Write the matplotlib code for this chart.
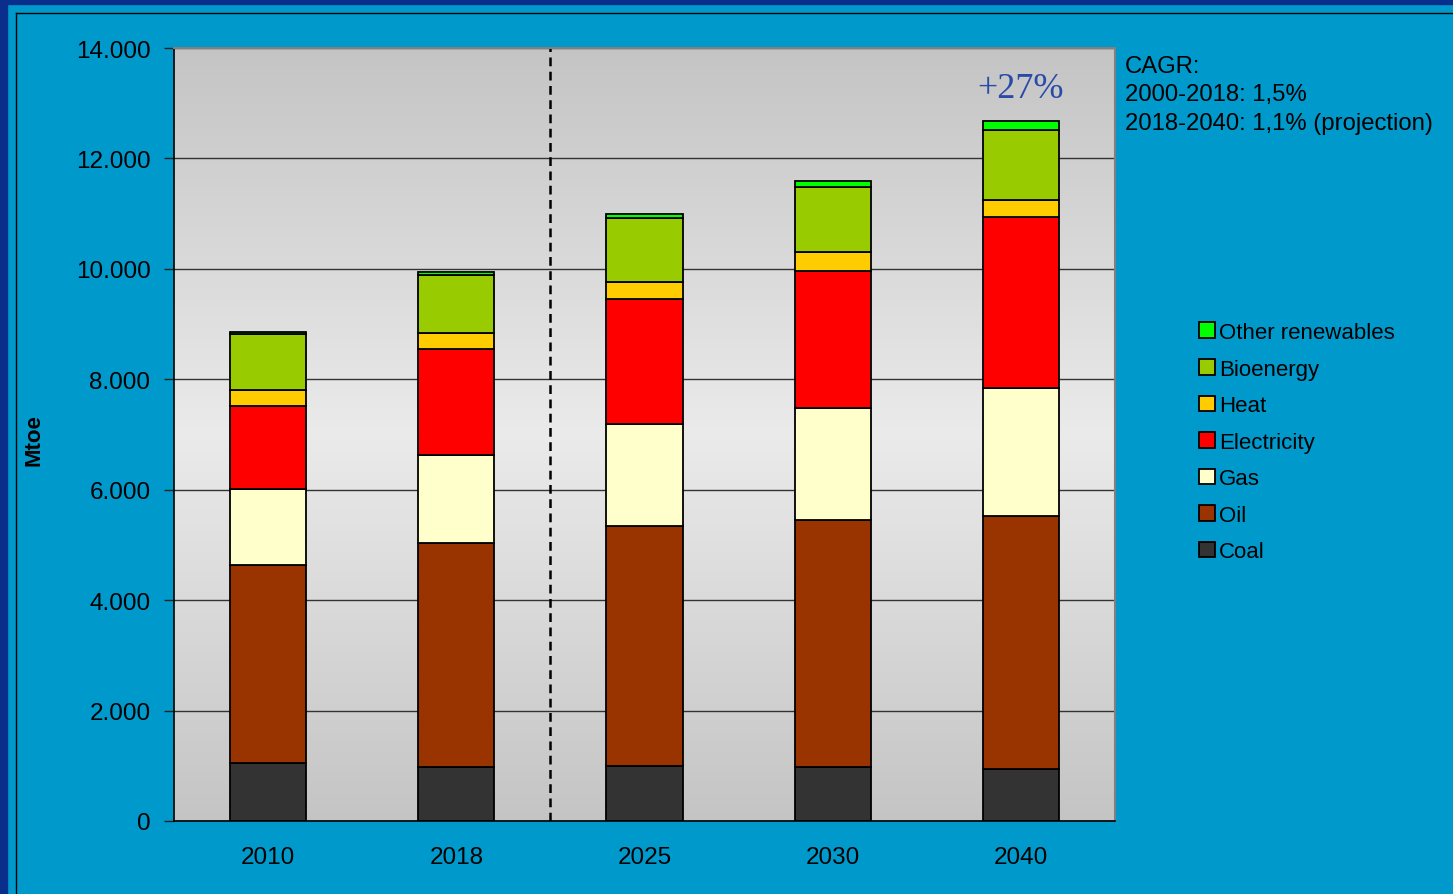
import matplotlib
matplotlib.use("Agg")
import matplotlib.pyplot as plt
import numpy as np
from matplotlib.patches import Rectangle
from matplotlib.ticker import FuncFormatter

# data (Mtoe)
years = ["2010", "2018", "2025", "2030", "2040"]
coal = [1050, 970, 1000, 980, 940]
oil = [3590, 4065, 4340, 4470, 4590]
gas = [1370, 1595, 1850, 2030, 2320]
electricity = [1515, 1920, 2260, 2490, 3090]
heat = [290, 290, 310, 335, 310]
bioenergy = [1010, 1050, 1160, 1170, 1265]
other_renew = [30, 50, 80, 110, 155]

series = [("Coal", coal, "#333333"),
          ("Oil", oil, "#993300"),
          ("Gas", gas, "#FFFFCC"),
          ("Electricity", electricity, "#FF0000"),
          ("Heat", heat, "#FFCC00"),
          ("Bioenergy", bioenergy, "#99CC00"),
          ("Other renewables", other_renew, "#00FF00")]

plt.rcParams['font.family'] = ['Liberation Sans', 'DejaVu Sans']

W, H = 1453, 895
fig = plt.figure(figsize=(W / 100, H / 100), dpi=100)
fig.patch.set_facecolor("#0099CC")

# dark blue frame at top/left and thin black line
fig.add_artist(Rectangle((0, 0), 7 / W, 1, transform=fig.transFigure, color="#0A2E8C", zorder=0))
fig.add_artist(Rectangle((0, 1 - 5 / H), 1, 5 / H, transform=fig.transFigure, color="#0A2E8C", zorder=0))
fig.add_artist(plt.Line2D([15.5 / W, 15.5 / W], [0, 1 - 13.5 / H], transform=fig.transFigure, color="black", lw=1))
fig.add_artist(plt.Line2D([15.5 / W, 1], [1 - 13.5 / H, 1 - 13.5 / H], transform=fig.transFigure, color="black", lw=1))

ax = fig.add_axes([174 / W, 73 / H, 941 / W, 773 / H])

# gray gradient background
t = np.linspace(0, 1, 256)
g = 0.77 + 0.15 * (1 - np.abs(t - 0.5) * 2)
grad = np.dstack([g, g, g]).reshape(256, 1, 3)
ax.imshow(grad, extent=[0, 1, 0, 1], transform=ax.transAxes, aspect="auto", zorder=0)

x = np.arange(len(years)) + 0.5
bottom = np.zeros(len(years))
handles = []
for name, vals, col in series:
    b = ax.bar(x, vals, width=0.405, bottom=bottom, color=col, edgecolor="black",
               linewidth=1.3, label=name, zorder=3)
    handles.append(b)
    bottom += np.array(vals)

ax.set_xlim(0, 5)
ax.set_ylim(0, 14000)
ax.set_yticks(np.arange(0, 14001, 2000))
ax.yaxis.set_major_formatter(FuncFormatter(lambda v, p: "0" if v == 0 else f"{int(v):,}".replace(",", ".")))
ax.set_xticks(x)
ax.set_xticklabels(years)
ax.tick_params(axis="x", length=0, pad=18, labelsize=17.5)
ax.tick_params(axis="y", length=7, width=1, pad=10, labelsize=17.5, color="#222222")
ax.grid(axis="y", color="#333333", lw=1, zorder=1)
ax.set_axisbelow(True)
for s in ["top", "right"]:
    ax.spines[s].set_color("#808080")
    ax.spines[s].set_linewidth(1.5)
for s in ["left", "bottom"]:
    ax.spines[s].set_color("black")
    ax.spines[s].set_linewidth(1.2)

# separation between history and projection
ax.axvline(2.0, color="black", lw=1.8, ls=(0, (3.5, 2.2)), zorder=2)

ax.text(x[-1], bottom[-1] + 300, "+27%", ha="center", va="bottom", fontsize=26,
        family="Liberation Serif", color="#2A4AA8", zorder=4)

fig.text(34 / W, 1 - 440 / H, "Mtoe", rotation=90, ha="center", va="center",
         fontsize=16, fontweight="bold")

fig.text(1125 / W, 1 - 56 / H, "CAGR:\n2000-2018: 1,5%\n2018-2040: 1,1% (projection)",
         ha="left", va="top", fontsize=17.2, linespacing=1.38)

leg = fig.legend(handles[::-1], [s[0] for s in series][::-1], loc="upper left",
                 bbox_to_anchor=(1199 / W, 1 - 323 / H), frameon=False, fontsize=16,
                 handlelength=0.7, handleheight=0.7, handletextpad=0.2, labelspacing=0.7,
                 borderpad=0, borderaxespad=0)

fig.savefig("out.png", dpi=100, facecolor=fig.get_facecolor())
